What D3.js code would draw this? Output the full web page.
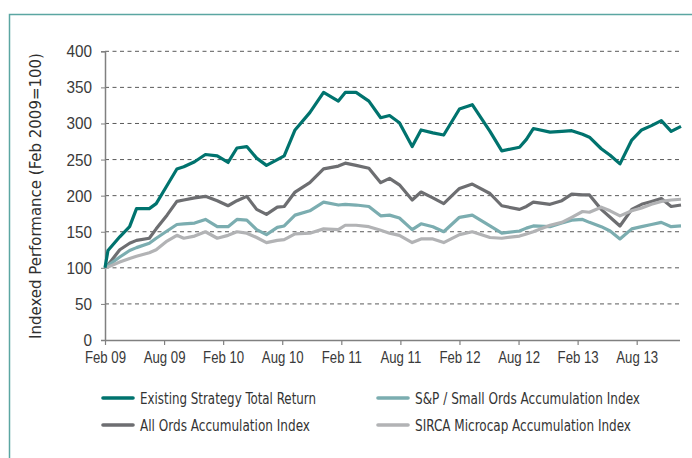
<!DOCTYPE html>
<html>
<head>
<meta charset="utf-8">
<script src="https://cdn.jsdelivr.net/npm/d3@7"></script>
<style>
  body { margin: 0; background: #fff; }
  svg { display: block; font-family: "Liberation Sans Narrow", "Arial Narrow", "DejaVu Sans Condensed", sans-serif; }
</style>
</head>
<body>
<div id="chart"></div>
<script>
// months since Feb 2009 for each observation
const months = [0, 0.3, 1.5, 2.5, 3.2, 4.5, 5.2, 6.3, 7.3, 8.0, 9.1, 10.2, 11.4, 12.5, 13.4,
  14.4, 15.4, 16.4, 17.5, 18.2, 19.3, 20.8, 22.2, 23.7, 24.4, 25.5, 26.8, 28.0, 28.9, 29.9,
  31.2, 32.1, 33.3, 34.4, 36.0, 37.3, 39.1, 40.3, 42.1, 42.8, 43.5, 45.2, 46.4, 47.4, 48.5,
  49.2, 50.4, 51.3, 52.3, 53.5, 54.5, 55.5, 56.5, 57.5, 58.5]

const existingStrategy = [100, 124, 143, 157, 182, 182, 189, 214, 237, 240, 247, 257, 255, 246, 266,
  268, 252, 242, 250, 255, 291, 315, 343, 331, 343, 343, 331, 308, 311, 301,
  268, 291, 287, 284, 320, 326, 289, 262, 267, 278, 293, 288, 289, 290, 285,
  281, 265, 256, 244, 277, 291, 297, 304, 289, 296]
const allOrds = [100, 104, 125, 134, 138, 141, 154, 173, 192, 194, 197, 199, 193, 186, 193,
  199, 181, 174, 184, 185, 205, 218, 237, 241, 245, 242, 238, 218, 224, 215,
  194, 205, 197, 189, 210, 216, 203, 186, 181, 185, 191, 188, 193, 202, 201,
  201, 181, 170, 158, 181, 188, 192, 196, 185, 187]
const smallOrds = [100, 103, 115, 124, 128, 134, 141, 151, 160, 161, 162, 167, 157, 157, 167,
  166, 153, 146, 156, 158, 173, 179, 191, 187, 188, 187, 185, 172, 173, 169,
  153, 161, 157, 150, 170, 173, 158, 148, 151, 155, 158, 157, 162, 166, 167,
  163, 157, 151, 140, 154, 157, 160, 163, 157, 158]
const sircaMicrocap = [100, 101, 108, 113, 116, 121, 125, 137, 145, 141, 144, 150, 141, 145, 150,
  148, 142, 135, 138, 139, 147, 148, 154, 153, 159, 159, 157, 152, 148, 145,
  135, 140, 140, 135, 146, 150, 142, 141, 144, 147, 150, 159, 163, 170, 178,
  177, 184, 179, 172, 179, 183, 188, 192, 194, 195]

const tickMonths = [0, 6, 12, 18, 24, 30, 36, 42, 48, 54]
const tickLabels = ['Feb 09', 'Aug 09', 'Feb 10', 'Aug 10', 'Feb 11', 'Aug 11', 'Feb 12', 'Aug 12', 'Feb 13', 'Aug 13']
const yTicks = [0, 50, 100, 150, 200, 250, 300, 350, 400]

const series = [
  {name: 'All Ords Accumulation Index', values: allOrds, color: '#6d6e71'},
  {name: 'S&P / Small Ords Accumulation Index', values: smallOrds, color: '#7badb0'},
  {name: 'SIRCA Microcap Accumulation Index', values: sircaMicrocap, color: '#b2b3b5'},
  {name: 'Existing Strategy Total Return', values: existingStrategy, color: '#00736e'}
]
const legendOrder = [
  ['Existing Strategy Total Return', '#00736e', 176],
  ['S&P / Small Ords Accumulation Index', '#7badb0', 225],
  ['All Ords Accumulation Index', '#6d6e71', 170],
  ['SIRCA Microcap Accumulation Index', '#b2b3b5', 216]
]

const width = 692, height = 458
const svg = d3.select('#chart').append('svg')
  .attr('width', width)
  .attr('height', height)

// frame
svg.append('path')
  .attr('d', `M9.5,${height} V14.5 H${width}`)
  .attr('fill', 'none')
  .attr('stroke', '#5ba6a2')
  .attr('stroke-width', 1.5)

const x = d3.scaleLinear().domain([0, 58.5]).range([105, 681])
const y = d3.scaleLinear().domain([0, 400]).range([340, 51.3])

// squeeze a text horizontally, the original uses a condensed face
function condense(sel, k) {
  sel.each(function() {
    const len = this.getComputedTextLength()
    d3.select(this).attr('textLength', len * k).attr('lengthAdjust', 'spacingAndGlyphs')
  })
}

// gridlines
svg.append('g')
  .selectAll('line')
  .data(yTicks.filter(d => d > 0))
  .enter().append('line')
  .attr('x1', x(0)).attr('x2', 680)
  .attr('y1', d => y(d)).attr('y2', d => y(d))
  .attr('stroke', '#5a5a5a')
  .attr('stroke-width', 1)
  .attr('stroke-dasharray', '4,3.5')

// y axis
const yAxis = svg.append('g')
  .attr('transform', `translate(${x(0)},0)`)
  .call(d3.axisLeft(y).tickValues(yTicks).tickSize(4).tickPadding(9))
yAxis.select('.domain').attr('stroke', '#808080').attr('stroke-width', 1.5)
yAxis.selectAll('.tick line').attr('stroke', '#808080')
yAxis.selectAll('.tick text')
  .attr('font-family', null)
  .attr('font-size', 17)
  .attr('fill', '#3a3a3a')
  .call(condense, 0.9)

// x axis
const xAxis = svg.append('g')
  .attr('transform', 'translate(0,340)')
  .call(d3.axisBottom(x).tickValues(tickMonths).tickFormat((d, i) => tickLabels[i]).tickSize(5).tickPadding(6).tickSizeOuter(0))
xAxis.select('.domain').attr('stroke', '#808080').attr('stroke-width', 1.5).attr('d', 'M105,0.5H680')
xAxis.selectAll('.tick line').attr('stroke', '#808080').attr('stroke-width', 1.2)
xAxis.selectAll('.tick text')
  .attr('font-family', null)
  .attr('font-size', 16.5)
  .attr('fill', '#3a3a3a')
  .call(condense, 0.8)

// axis title, sized to run from the 0 to the 400 gridline
const title = svg.append('text')
  .attr('transform', 'translate(41,196) rotate(-90)')
  .attr('text-anchor', 'middle')
  .attr('font-size', 20)
  .attr('fill', '#2f2f2f')
  .text('Indexed Performance (Feb 2009=100)')
const natural = title.node().getComputedTextLength()
title.attr('font-size', Math.min(20, 20 * 286 / natural))

// lines
const line = d3.line()
  .x((d, i) => x(months[i]))
  .y(d => y(d))
svg.append('g')
  .selectAll('path')
  .data(series)
  .enter().append('path')
  .attr('d', d => line(d.values))
  .attr('fill', 'none')
  .attr('stroke', d => d.color)
  .attr('stroke-width', 3.2)
  .attr('stroke-linejoin', 'round')

// legend
const legend = svg.append('g')
  .selectAll('g')
  .data(legendOrder)
  .enter().append('g')
  .attr('transform', (d, i) => `translate(${i % 2 ? 378 : 103},${i < 2 ? 398 : 425})`)
legend.append('line')
  .attr('x1', 0).attr('x2', 30)
  .attr('stroke', d => d[1])
  .attr('stroke-width', 3.6)
  .attr('stroke-linecap', 'round')
legend.append('text')
  .attr('x', 37)
  .attr('y', 5.5)
  .attr('font-size', 16.5)
  .attr('fill', '#333')
  .attr('textLength', d => d[2])
  .attr('lengthAdjust', 'spacingAndGlyphs')
  .text(d => d[0])
</script>
</body>
</html>
